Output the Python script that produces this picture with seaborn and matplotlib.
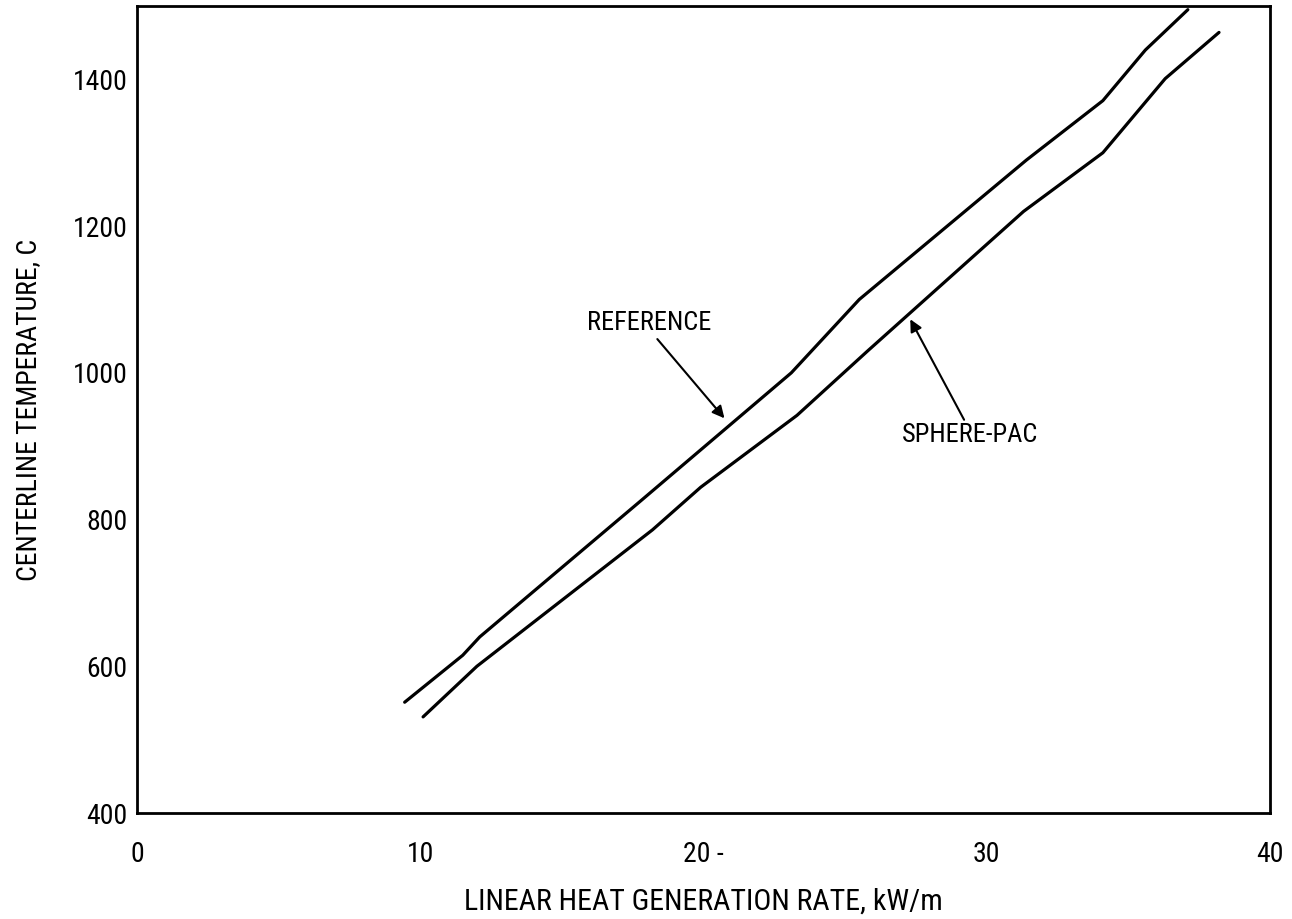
import matplotlib
matplotlib.use("Agg")
import matplotlib.pyplot as plt
import seaborn as sns
import pandas as pd
from matplotlib import font_manager

# ---- data ----
ref_x = [9.45, 11.5, 12.1, 17.8, 23.1, 25.5, 31.4, 34.1, 35.6, 37.1]
ref_y = [551, 615, 640, 826, 1000, 1100, 1290, 1371, 1440, 1495]
sp_x = [10.1, 12.0, 18.2, 19.9, 23.3, 25.8, 31.3, 34.1, 36.3, 38.2]
sp_y = [531, 600, 786, 844, 942, 1030, 1220, 1300, 1401, 1464]
x_ticks = [0, 10, 20, 30, 40]
x_tick_labels = ["0", "10", "20 -", "30", "40"]
y_ticks = [400, 600, 800, 1000, 1200, 1400]
y_tick_labels = ["400", "600", "800", "1000", "1200", "1400"]

sns.set_theme(style="white")
names = {f.name for f in font_manager.fontManager.ttflist}
fam = [f for f in ["Liberation Sans Narrow", "DejaVu Sans Condensed", "Roboto Condensed"] if f in names]
plt.rcParams["font.family"] = fam + ["DejaVu Sans"]
if not fam:
    plt.rcParams["font.stretch"] = "condensed"

df = pd.concat([
    pd.DataFrame({"x": ref_x, "y": ref_y, "series": "REFERENCE"}),
    pd.DataFrame({"x": sp_x, "y": sp_y, "series": "SPHERE-PAC"}),
])

fig = plt.figure(figsize=(12.92, 9.19), dpi=100)
ax = fig.add_axes([137 / 1292, 1 - 813 / 919, (1270 - 137) / 1292, (813 - 6) / 919])
sns.lineplot(data=df, x="x", y="y", units="series", estimator=None, sort=False,
             color="black", linewidth=2.3, ax=ax, legend=False)

ax.set_xlim(0, 40)
ax.set_ylim(400, 1500)
ax.set_xticks(x_ticks)
ax.set_xticklabels(x_tick_labels)
ax.set_yticks(y_ticks)
ax.set_yticklabels(y_tick_labels)
ax.tick_params(axis="x", direction="in", length=12, width=1.6, pad=20, labelsize=20, colors="black")
ax.tick_params(axis="y", direction="in", length=12, width=1.6, pad=7, labelsize=20, colors="black")
for s in ax.spines.values():
    s.set_visible(True)
    s.set_color("black")
    s.set_linewidth(2.0)

ax.set_xlabel("LINEAR HEAT GENERATION RATE, kW/m", fontsize=21.5, labelpad=14, color="black")
ax.set_ylabel("CENTERLINE TEMPERATURE, C", fontsize=20, labelpad=22, color="black")

arrow = dict(arrowstyle="-|>", color="black", lw=1.5, shrinkA=0, shrinkB=0, mutation_scale=18)
ax.text(18.1, 1068, "REFERENCE", fontsize=19, ha="center", va="center", color="black")
ax.annotate("", xy=(20.74, 938), xytext=(18.37, 1046), arrowprops=arrow)
ax.text(29.4, 915, "SPHERE-PAC", fontsize=19, ha="center", va="center", color="black")
ax.annotate("", xy=(27.3, 1073), xytext=(29.2, 936), arrowprops=arrow)

fig.savefig("out.png", dpi=100)
